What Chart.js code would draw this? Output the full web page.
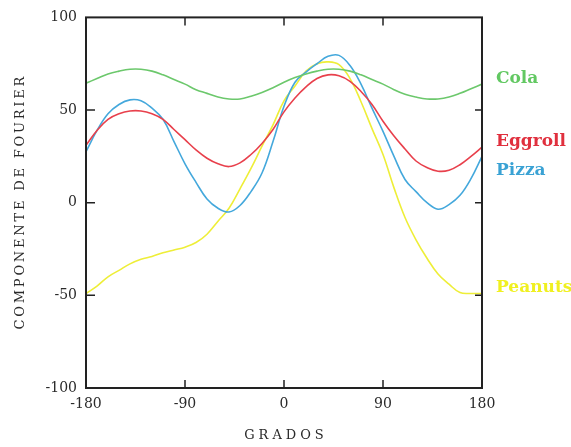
<!DOCTYPE html>
<html lang="es">
<head>
  <meta charset="UTF-8" />
  <title>Componente de Fourier</title>
  <style>
    * { box-sizing: border-box; margin: 0; padding: 0; }
    html, body { width: 571px; height: 447px; background: #fff; overflow: hidden; }
    #wrap { width: 571px; height: 447px; }
  </style>
</head>
<body>
  <div id="wrap"><canvas id="chart" width="571" height="447"></canvas></div>

  <script src="https://cdn.jsdelivr.net/npm/chart.js@4"></script>
  <script>
    // --- data (every 10 degrees) ---
    const grados = [-180, -170, -160, -150, -140, -130, -120, -110, -100, -90, -80, -70, -60, -50, -40, -30, -20, -10,
                    0, 10, 20, 30, 40, 50, 60, 70, 80, 90, 100, 110, 120, 130, 140, 150, 160, 170, 180];
    const cola    = [64.5, 67, 69.5, 71, 72, 72, 71, 69, 66.5, 64, 61, 59, 57, 56, 56, 57.5, 59.5, 62,
                     65, 67.5, 69.5, 71, 72, 72, 71, 69, 66.5, 64, 61, 58.5, 57, 56, 56, 57, 59, 61.5, 64];
    const eggroll = [31, 39, 45, 48, 49.5, 49.5, 48, 45, 39.5, 34, 28.5, 24, 21, 19.5, 21.5, 26, 32, 39.5,
                     49, 56.5, 62.5, 67, 69, 68.5, 65.5, 60, 53, 44, 36, 29, 22.5, 19, 17, 17.5, 20.5, 25, 30];
    const pizza   = [27.5, 39, 48, 53, 55.5, 55, 51, 45, 33, 21, 11, 2, -3, -5, -1.5, 6, 16, 33,
                     52, 65, 70.5, 75, 79, 79.5, 74, 64, 51, 38.5, 25, 12.5, 6, 0, -3.5, -1, 4, 13, 25];
    const peanuts = [-49, -45, -40, -36.5, -33, -30.5, -29, -27, -25.5, -24, -21.5, -17, -10, -3, 7.5, 18.5, 30.5, 42,
                     55, 63, 71, 75, 76, 74.5, 67, 54.5, 40, 26, 8, -8, -20, -30, -38.5, -44, -48.5, -49, -49];

    const names = ['Cola', 'Eggroll', 'Pizza', 'Peanuts'];
    const values = [cola, eggroll, pizza, peanuts];
    const lineColors = ['#6cc86c', '#e8404c', '#44a8dc', '#eeee38'];
    const nameColors = ['#62c862', '#e0303e', '#3aa2d4', '#f0f020'];
    const nameShift = [-6, -6, 14, -6];   // px offset of each name from its line end

    const xTicks = [-180, -90, 0, 90, 180];
    const yTicks = [-100, -50, 0, 50, 100];

    const serif = '"DejaVu Serif", "Liberation Serif", serif';

    // frame with inward ticks, series names and spaced axis titles
    const framePlugin = {
      id: 'frame',
      afterDatasetsDraw(chart) {
        const { ctx, chartArea: a, scales: { x, y } } = chart;
        ctx.save();
        ctx.strokeStyle = '#222';
        ctx.lineWidth = 2;
        ctx.strokeRect(a.left, a.top, a.right - a.left, a.bottom - a.top);

        ctx.lineWidth = 1.5;
        ctx.beginPath();
        xTicks.slice(1, -1).forEach(v => {
          const px = x.getPixelForValue(v);
          ctx.moveTo(px, a.bottom); ctx.lineTo(px, a.bottom - 8);
          ctx.moveTo(px, a.top); ctx.lineTo(px, a.top + 8);
        });
        yTicks.slice(1, -1).forEach(v => {
          const py = y.getPixelForValue(v);
          ctx.moveTo(a.left, py); ctx.lineTo(a.left + 9, py);
          ctx.moveTo(a.right, py); ctx.lineTo(a.right - 7, py);
        });
        ctx.stroke();

        ctx.font = 'bold 17px ' + serif;
        ctx.textAlign = 'left';
        ctx.textBaseline = 'middle';
        chart.data.datasets.forEach((ds, i) => {
          const last = ds.data[ds.data.length - 1];
          ctx.fillStyle = nameColors[i];
          ctx.fillText(ds.label, a.right + 14, y.getPixelForValue(last.y) + nameShift[i]);
        });

        ctx.fillStyle = '#2a2a2a';
        ctx.textAlign = 'center';
        ctx.font = '13px ' + serif;
        ctx.letterSpacing = '4px';
        ctx.fillText('GRADOS', (a.left + a.right) / 2 + 2, 436);

        ctx.letterSpacing = '2.8px';
        ctx.translate(21, (a.top + a.bottom) / 2);
        ctx.rotate(-Math.PI / 2);
        ctx.fillText('COMPONENTE DE FOURIER', 1, 0);
        ctx.restore();
      }
    };

    new Chart(document.getElementById('chart'), {
      type: 'line',
      data: {
        datasets: names.map((n, i) => ({
          label: n,
          data: grados.map((g, k) => ({ x: g, y: values[i][k] })),
          borderColor: lineColors[i],
          borderWidth: 1.6,
          pointRadius: 0,
          tension: 0.4,
          fill: false
        }))
      },
      options: {
        responsive: false,
        animation: false,
        layout: { padding: { top: 10, right: 89, left: 0, bottom: 0 } },
        plugins: { legend: { display: false }, tooltip: { enabled: false } },
        scales: {
          x: {
            type: 'linear', min: -180, max: 180,
            afterBuildTicks: s => { s.ticks = xTicks.map(v => ({ value: v })); },
            afterFit: s => { s.height = 59; },
            grid: { display: false, drawTicks: false },
            border: { display: false },
            ticks: { padding: 8, color: '#2a2a2a', font: { family: serif, size: 14 }, maxRotation: 0 }
          },
          y: {
            min: -100, max: 100,
            afterBuildTicks: s => { s.ticks = yTicks.map(v => ({ value: v })); },
            afterFit: s => { s.width = 86; },
            grid: { display: false, drawTicks: false },
            border: { display: false },
            ticks: { padding: 9, color: '#2a2a2a', font: { family: serif, size: 14 } }
          }
        }
      },
      plugins: [framePlugin]
    });
  </script>
</body>
</html>
